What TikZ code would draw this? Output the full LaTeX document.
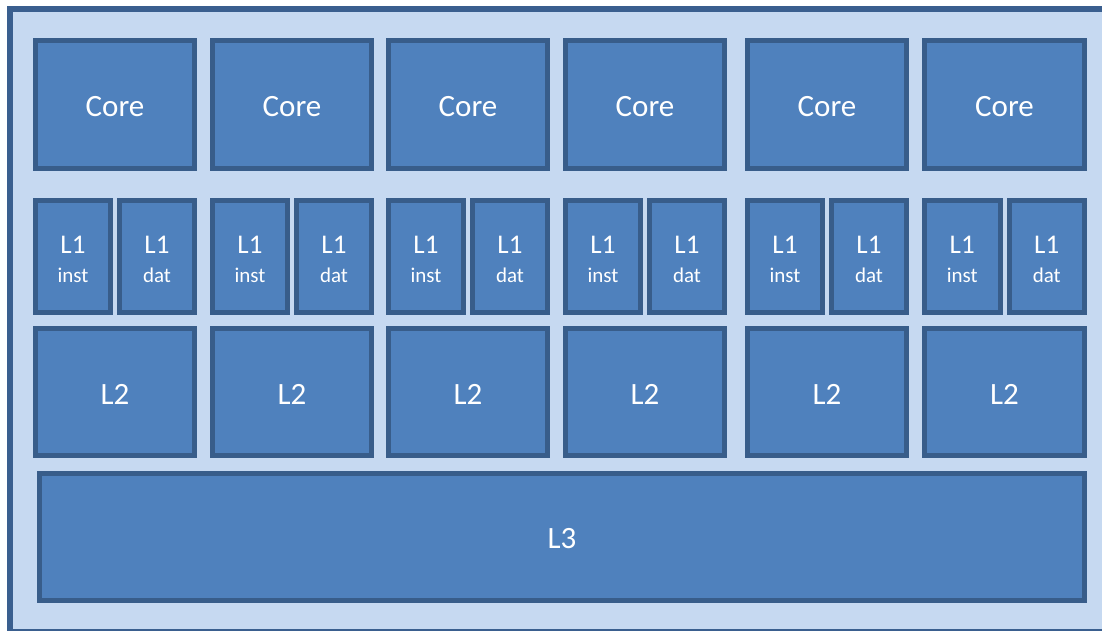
\documentclass[tikz,border=0pt]{standalone}
\usepackage{fontspec}
\setmainfont{Carlito}
\definecolor{framefill}{HTML}{C6D9F1}
\definecolor{frameline}{HTML}{3A5F8F}
\definecolor{boxfill}{HTML}{4F81BD}
\definecolor{boxline}{HTML}{385D8A}
\tikzset{
  cachebox/.style={draw=boxline, fill=boxfill, line width=5pt},
  bigtext/.style={text=white, inner sep=0pt, font=\fontsize{31}{33}\selectfont},
  levtext/.style={text=white, inner sep=0pt, font=\fontsize{27}{29}\selectfont},
  subtext/.style={text=white, inner sep=0pt, font=\fontsize{21}{23}\selectfont},
}
\newcommand{\cbox}[5]{% x1, y1, x2, y2, name
  \draw[cachebox] (#1+2.5,#2+2.5) rectangle (#3-2.5,#4-2.5);
  \coordinate (#5) at ({(#1+#3)/2},{(#2+#4)/2});
}
\begin{document}
\begin{tikzpicture}[x=1pt,y=-1pt]
\useasboundingbox (0,0) rectangle (1102,631);
\fill[white] (0,0) rectangle (1102,631);
\begin{scope}
\clip (0,0) rectangle (1102,631);
\draw[draw=frameline, fill=framefill, line width=6pt] (10,9) rectangle (1112,632);
\end{scope}
\foreach \i/\a/\b in {1/33/197, 2/210/374, 3/386/550, 4/563/727, 5/745/909, 6/922/1087}{
  \pgfmathsetmacro{\mid}{(\a+\b)/2}
  \cbox{\a}{38}{\b}{171}{core\i}
  \node[bigtext] (coret\i) at ([yshift=-2pt]core\i) {Core};
  \cbox{\a}{198}{\mid-2}{315}{li\i}
  \node[levtext] (lit\i) at ([yshift=12pt]li\i) {L1};
  \node[subtext] (lis\i) at ([yshift=-19pt]li\i) {inst};
  \cbox{\mid+2}{198}{\b}{315}{ld\i}
  \node[levtext] (ldt\i) at ([yshift=12pt]ld\i) {L1};
  \node[subtext] (lds\i) at ([yshift=-19pt]ld\i) {dat};
  \cbox{\a}{326}{\b}{458}{ltwo\i}
  \node[bigtext] (ltwot\i) at ([yshift=-2pt]ltwo\i) {L2};
}
\cbox{37}{471}{1087}{603}{lthree}
\node[bigtext] (lthreet) at ([yshift=-2pt]lthree) {L3};
\end{tikzpicture}
\end{document}
